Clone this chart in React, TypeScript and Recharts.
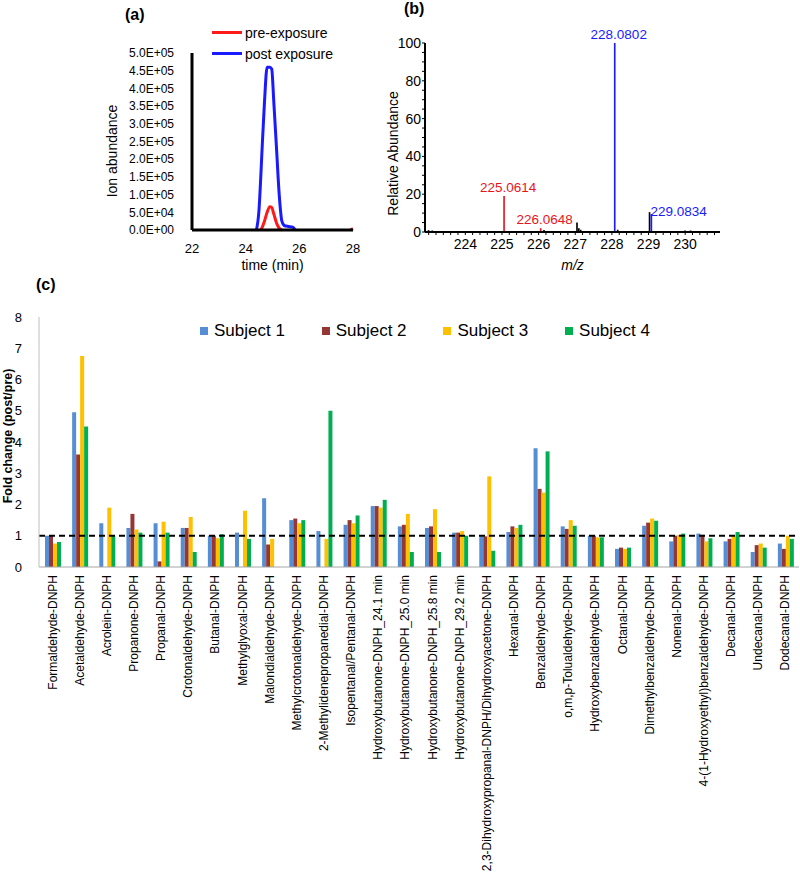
import React from "react";
import {
    LineChart,
    Line,
    BarChart,
    Bar,
    Cell,
    XAxis,
    YAxis,
    Label,
    LabelList,
    Legend,
    ReferenceLine,
} from "recharts";

// (a) extracted ion chromatogram
const times = [24.4, 24.5, 24.55, 24.6, 24.7, 24.8, 24.9, 24.97, 25.05, 25.15, 25.25, 25.35, 25.45, 25.6, 25.75, 25.85, 27.9, 28];
const postExposure = [0, 60000, 130000, 210000, 360000, 460000, 460000, 455000, 360000, 230000, 100000, 25000, 12000, 10000, 8000, 0, null, null];
const preExposure = [null, null, 0, 5000, 25000, 50000, 66000, 64000, 45000, 20000, 5000, 0, null, null, null, null, 0, 4000];
const ionTicks = [0, 50000, 100000, 150000, 200000, 250000, 300000, 350000, 400000, 450000, 500000];
const timeTicks = [22, 24, 26, 28];

// (b) mass spectrum
const peakMz = [223.0, 223.1, 224.0, 225.06, 225.12, 226.06, 226.15, 227.05, 227.1, 227.15, 228.08, 228.16, 229.03, 229.08, 230.0, 230.15];
const peakIntensity = [1, 0.8, 0.5, 19, 0.5, 2, 1, 5, 2, 1.2, 100, 1.2, 10.5, 9.5, 0.8, 0.8];
const peakColors = ["#000", "#000", "#000", "#e8141c", "#000", "#e8141c", "#000", "#000", "#000", "#000", "#1a1aff", "#000", "#000", "#1a1aff", "#000", "#000"];
const peakLabels = ["", "", "", "225.0614", "", "226.0648", "", "", "", "", "228.0802", "", "", "229.0834", "", ""];
const abundanceTicks = [0, 20, 40, 60, 80, 100];
const mzTicks = [224, 225, 226, 227, 228, 229, 230];

// (c) fold change per carbonyl
const compounds = [
    "Formaldehyde-DNPH",
    "Acetaldehyde-DNPH",
    "Acrolein-DNPH",
    "Propanone-DNPH",
    "Propanal-DNPH",
    "Crotonaldehyde-DNPH",
    "Butanal-DNPH",
    "Methylglyoxal-DNPH",
    "Malondialdehyde-DNPH",
    "Methylcrotonaldehyde-DNPH",
    "2-Methylidenepropanedial-DNPH",
    "Isopentanal/Pentanal-DNPH",
    "Hydroxybutanone-DNPH_24.1 min",
    "Hydroxybutanone-DNPH_25.0 min",
    "Hydroxybutanone-DNPH_25.8 min",
    "Hydroxybutanone-DNPH_29.2 min",
    "2,3-Dihydroxypropanal-DNPH/Dihydroxyacetone-DNPH",
    "Hexanal-DNPH",
    "Benzaldehyde-DNPH",
    "o,m,p-Tolualdehyde-DNPH",
    "Hydroxybenzaldehyde-DNPH",
    "Octanal-DNPH",
    "Dimethylbenzaldehyde-DNPH",
    "Nonenal-DNPH",
    "4-(1-Hydroxyethyl)benzaldehyde-DNPH",
    "Decanal-DNPH",
    "Undecanal-DNPH",
    "Dodecanal-DNPH",
];
const subject1 = [1.0, 4.95, 1.4, 1.25, 1.4, 1.25, 1.0, 1.1, 2.2, 1.5, 1.15, 1.35, 1.95, 1.3, 1.25, 1.1, 0.98, 1.12, 3.8, 1.3, 1.0, 0.58, 1.32, 0.82, 1.07, 0.82, 0.48, 0.75];
const subject2 = [1.0, 3.6, 0, 1.7, 0.18, 1.25, 1.0, 0, 0.72, 1.55, 0, 1.5, 1.95, 1.35, 1.3, 1.1, 0.98, 1.3, 2.5, 1.22, 1.0, 0.62, 1.42, 1.0, 1.03, 0.9, 0.7, 0.58];
const subject3 = [0.75, 6.75, 1.9, 1.2, 1.45, 1.6, 0.92, 1.8, 0.9, 1.4, 0.9, 1.4, 1.9, 1.7, 1.85, 1.15, 2.9, 1.25, 2.38, 1.5, 0.95, 0.58, 1.55, 1.03, 0.82, 1.0, 0.75, 1.0];
const subject4 = [0.8, 4.5, 1.0, 1.1, 1.1, 0.48, 1.05, 0.9, 0, 1.5, 5.0, 1.65, 2.15, 0.48, 0.48, 1.0, 0.52, 1.35, 3.7, 1.32, 0.95, 0.62, 1.48, 1.07, 0.92, 1.12, 0.62, 0.9];
const subjectNames = ["Subject 1", "Subject 2", "Subject 3", "Subject 4"];
const subjectColors = ["#558ed5", "#953735", "#ffc000", "#00b050"];
const foldTicks = [0, 1, 2, 3, 4, 5, 6, 7, 8];

const chromData = times.map((time, i) => ({ time, post: postExposure[i], pre: preExposure[i] }));
const spectrum = peakMz.map((mz, i) => ({ mz, intensity: peakIntensity[i], label: peakLabels[i] }));
const foldData = compounds.map((name, i) => ({
    name,
    s1: subject1[i],
    s2: subject2[i],
    s3: subject3[i],
    s4: subject4[i],
}));

// minor ticks on the spectrum axes
const mzMinor = Array.from({ length: 40 }, (_, i) => Math.round((223 + i * 0.2) * 10) / 10);
const abundanceMinor = Array.from({ length: 21 }, (_, i) => i * 5);

const FONT = "'Liberation Sans', Arial, sans-serif";

const sci = (v: number) => {
    const [m, e] = v.toExponential(1).split("e");
    const n = Number(e);
    return `${m}E${n < 0 ? "-" : "+"}${String(Math.abs(n)).padStart(2, "0")}`;
};

// rotated y-axis title, centred on the axis box
const yTitle = (text: string, dx: number, dy: number, size: number, bold = false) => (props: any) => {
    const vb = props.viewBox || {};
    const cx = vb.x + dx;
    const cy = vb.y + vb.height / 2 + dy;
    return (
        <text
            x={cx}
            y={cy}
            transform={`rotate(-90, ${cx}, ${cy})`}
            textAnchor="middle"
            dominantBaseline="central"
            fontSize={size}
            fontWeight={bold ? "bold" : "normal"}
            fill="#000"
        >
            {text}
        </text>
    );
};

const xTitle = (text: string, dy: number, size: number, italic = false) => (props: any) => {
    const vb = props.viewBox || {};
    return (
        <text
            x={vb.x + vb.width / 2}
            y={vb.y + dy}
            textAnchor="middle"
            fontSize={size}
            fontStyle={italic ? "italic" : "normal"}
            fill="#000"
        >
            {text}
        </text>
    );
};

const PeakLabel = (props: any) => {
    const { x, y, width, value } = props;
    if (!value) return null;
    const idx = peakLabels.indexOf(value);
    const color = peakColors[idx];
    const cx = x + width / 2;
    if (value === "229.0834") {
        return (
            <text x={cx - 1} y={y + 2} textAnchor="start" fontSize={13.5} fill={color}>
                {value}
            </text>
        );
    }
    return (
        <text x={cx + 4} y={y - 4} textAnchor="middle" fontSize={13.5} fill={color}>
            {value}
        </text>
    );
};

const CompoundTick = (props: any) => {
    const { x, y, payload } = props;
    return (
        <text
            transform={`translate(${x},${y + 8}) rotate(-90)`}
            textAnchor="end"
            dominantBaseline="central"
            fontSize={12}
            fill="#000"
        >
            {payload.value}
        </text>
    );
};

const ChromLegend = () => (
    <div style={{ fontFamily: FONT, fontSize: 14, color: "#000" }}>
        {[["pre-exposure", "#ff1a1a"], ["post exposure", "#1a1aff"]].map(([name, color]) => (
            <div key={name} style={{ display: "flex", alignItems: "center", height: 21 }}>
                <div style={{ width: 30, height: 3, background: color, marginRight: 3 }} />
                <span>{name}</span>
            </div>
        ))}
    </div>
);

const SubjectLegend = () => (
    <div style={{ display: "flex", fontFamily: FONT, fontSize: 17, color: "#000" }}>
        {subjectNames.map((name, i) => (
            <div key={name} style={{ display: "flex", alignItems: "center", width: 121.7, height: 20 }}>
                <div style={{ width: 8, height: 8, background: subjectColors[i], marginRight: 6 }} />
                <span>{name}</span>
            </div>
        ))}
    </div>
);

const panelTag = (text: string, left: number, top: number) => (
    <div
        style={{
            position: "absolute",
            left,
            top,
            fontSize: 16,
            fontWeight: "bold",
            lineHeight: "18px",
            fontFamily: FONT,
        }}
    >
        {text}
    </div>
);

export default function App() {
    return (
        <div
            style={{
                position: "absolute",
                left: 0,
                top: 0,
                width: 800,
                height: 881,
                background: "#fff",
                fontFamily: FONT,
                overflow: "hidden",
            }}
        >
            {panelTag("(a)", 125, 6)}
            {panelTag("(b)", 404, 0)}
            {panelTag("(c)", 36, 276)}

            {/* (a) chromatogram */}
            <div style={{ position: "absolute", left: 90, top: 0 }}>
                <LineChart width={280} height={290} data={chromData} margin={{ top: 53, right: 17, left: 0, bottom: 0 }}>
                    <XAxis
                        dataKey="time"
                        type="number"
                        domain={[22, 28]}
                        ticks={timeTicks}
                        interval={0}
                        tickLine={false}
                        axisLine={{ stroke: "#000", strokeWidth: 3 }}
                        tick={{ fill: "#000", fontSize: 13 }}
                        tickMargin={8}
                        height={60}
                    >
                        <Label content={xTitle("time (min)", 40, 14)} />
                    </XAxis>
                    <YAxis
                        type="number"
                        domain={[0, 500000]}
                        ticks={ionTicks}
                        interval={0}
                        tickFormatter={sci}
                        tickLine={false}
                        axisLine={{ stroke: "#000", strokeWidth: 3 }}
                        tick={{ fill: "#000", fontSize: 12 }}
                        tickMargin={12}
                        width={102}
                    >
                        <Label content={yTitle("Ion abundance", 22, 9.5, 14)} />
                    </YAxis>
                    <Line
                        type="monotone"
                        dataKey="post"
                        stroke="#1a1aff"
                        strokeWidth={3}
                        dot={false}
                        connectNulls={false}
                        isAnimationActive={false}
                    />
                    <Line
                        type="monotone"
                        dataKey="pre"
                        stroke="#ff1a1a"
                        strokeWidth={3}
                        dot={false}
                        connectNulls={false}
                        isAnimationActive={false}
                    />
                    <Legend
                        layout="vertical"
                        verticalAlign="middle"
                        align="center"
                        wrapperStyle={{ left: 122, top: 22, width: 160 }}
                        content={ChromLegend}
                    />
                </LineChart>
            </div>

            {/* (b) mass spectrum */}
            <div style={{ position: "absolute", left: 370, top: 0 }}>
                <BarChart width={370} height={290} data={spectrum} margin={{ top: 43, right: 20, left: 0, bottom: 18 }} barSize={3}>
                    <XAxis
                        dataKey="mz"
                        type="number"
                        domain={[222.9, 230.95]}
                        ticks={mzMinor}
                        interval={0}
                        tickFormatter={(v: number) => (mzTicks.includes(v) ? String(v) : "")}
                        tickSize={3}
                        tickLine={{ stroke: "#000" }}
                        axisLine={{ stroke: "#000", strokeWidth: 2 }}
                        tick={{ fill: "#000", fontSize: 14 }}
                        tickMargin={4}
                        height={40}
                        allowDataOverflow
                    >
                        <Label content={xTitle("m/z", 38, 14, true)} />
                    </XAxis>
                    <YAxis
                        type="number"
                        domain={[0, 100]}
                        ticks={abundanceMinor}
                        interval={0}
                        tickFormatter={(v: number) => (abundanceTicks.includes(v) ? String(v) : "")}
                        tickSize={3}
                        tickLine={{ stroke: "#000" }}
                        axisLine={{ stroke: "#000", strokeWidth: 2 }}
                        tick={{ fill: "#000", fontSize: 14 }}
                        tickMargin={1}
                        width={55}
                    >
                        <Label content={yTitle("Relative Abundance", 23, 16, 14)} />
                    </YAxis>
                    <Bar dataKey="intensity" isAnimationActive={false}>
                        {spectrum.map((d, i) => (
                            <Cell key={d.mz} fill={peakColors[i]} />
                        ))}
                        <LabelList dataKey="label" content={PeakLabel} />
                    </Bar>
                </BarChart>
            </div>

            {/* (c) fold change */}
            <div style={{ position: "absolute", left: 0, top: 280 }}>
                <BarChart
                    width={800}
                    height={601}
                    data={foldData}
                    margin={{ top: 37, right: 1, left: 0, bottom: 0 }}
                    barGap={0}
                    barSize={4}
                >
                    <XAxis
                        dataKey="name"
                        interval={0}
                        height={314}
                        tick={<CompoundTick />}
                        tickLine={false}
                        tickSize={0}
                        tickMargin={0}
                        axisLine={{ stroke: "#a6a6a6" }}
                    />
                    <YAxis
                        type="number"
                        domain={[0, 8]}
                        ticks={foldTicks}
                        interval={0}
                        tickLine={false}
                        axisLine={{ stroke: "#bfbfbf" }}
                        tick={{ fill: "#000", fontSize: 13 }}
                        tickMargin={11}
                        width={39}
                    >
                        <Label content={yTitle("Fold change (post/pre)", 8, -6, 12.5, true)} />
                    </YAxis>
                    <Bar dataKey="s1" name="Subject 1" fill={subjectColors[0]} isAnimationActive={false} />
                    <Bar dataKey="s2" name="Subject 2" fill={subjectColors[1]} isAnimationActive={false} />
                    <Bar dataKey="s3" name="Subject 3" fill={subjectColors[2]} isAnimationActive={false} />
                    <Bar dataKey="s4" name="Subject 4" fill={subjectColors[3]} isAnimationActive={false} />
                    <ReferenceLine y={1} stroke="#000" strokeWidth={2} strokeDasharray="6 4" />
                    <Legend
                        layout="horizontal"
                        verticalAlign="middle"
                        align="center"
                        wrapperStyle={{ left: 200, top: 41, width: 500 }}
                        content={SubjectLegend}
                    />
                </BarChart>
            </div>
        </div>
    );
}
